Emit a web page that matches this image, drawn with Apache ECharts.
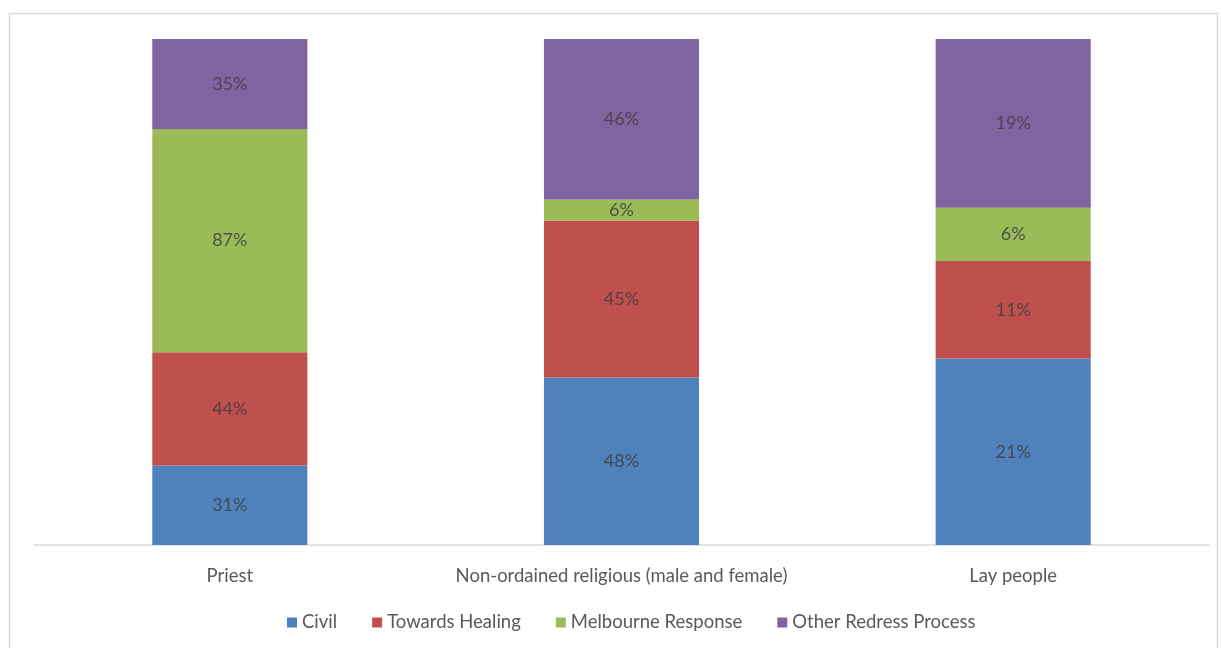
<!DOCTYPE html>
<html><head><meta charset="utf-8">
<script src="https://cdn.jsdelivr.net/npm/echarts@6/dist/echarts.min.js"></script>
<style>html,body{margin:0;padding:0;background:#fff}#c{width:1221px;height:648px}</style>
</head><body><div id="c"></div>
<script>
const categories = ['Priest', 'Non-ordained religious (male and female)', 'Lay people'];
const seriesNames = ['Civil', 'Towards Healing', 'Melbourne Response', 'Other Redress Process'];
const civil = [31, 48, 21];
const towardsHealing = [44, 45, 11];
const melbourneResponse = [87, 6, 6];
const otherRedress = [35, 46, 19];
const colors = ['#4F81BD', '#C0504D', '#9BBB59', '#8064A2'];

const raw = [civil, towardsHealing, melbourneResponse, otherRedress];
const totals = categories.map((_, i) => raw.reduce((s, a) => s + a[i], 0));

const chart = echarts.init(document.getElementById('c'));
const font = 'Lato, "Open Sans", "Noto Sans", sans-serif';
chart.setOption({
  animation: false,
  graphic: [{type:'rect', shape:{x:9.5, y:13.5, width:1208, height:660}, style:{fill:'none', stroke:'#d9d9d9', lineWidth:1.5}}],
  grid: {left: 34, right: 12, top: 39, bottom: 103, containLabel: false},
  legend: {
    top: 608, left: 282, itemWidth: 10, itemHeight: 10, itemGap: 35,
    icon: 'rect',
    textStyle: {color: '#595959', fontSize: 18.5, fontFamily: font},
    data: seriesNames
  },
  xAxis: {
    type: 'category', data: categories,
    axisLine: {lineStyle: {color: '#d9d9d9', width: 1.5}},
    axisTick: {show: false},
    axisLabel: {color: '#595959', fontSize: 18.5, fontFamily: font, margin: 22, interval: 0}
  },
  yAxis: {type: 'value', min: 0, max: 100, show: false},
  series: raw.map((arr, k) => ({
    name: seriesNames[k], type: 'bar', stack: 'total', barWidth: '39.6%',
    itemStyle: {color: colors[k]},
    data: arr.map((v, i) => ({value: v / totals[i] * 100})),
    label: {
      show: true, position: 'inside', color: 'rgba(64,64,64,0.85)', fontSize: 18, fontFamily: font,
      formatter: p => raw[k][p.dataIndex] + '%'
    }
  }))
});
</script></body></html>
